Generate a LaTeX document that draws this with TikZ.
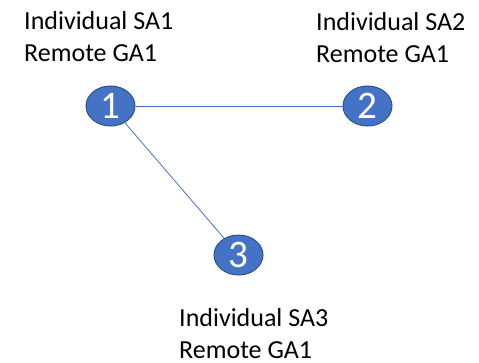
\documentclass[tikz,border=0pt]{standalone}
\usepackage{fontspec}
\setmainfont{Carlito}
\usetikzlibrary{shapes.geometric}
\definecolor{nodefill}{HTML}{4472C4}
\definecolor{nodeedge}{HTML}{2F528F}
\tikzset{
  numnode/.style={ellipse, fill=nodefill, draw=nodeedge, line width=1pt,
    minimum width=49pt, minimum height=40pt, inner sep=0pt, text=white,
    font=\fontsize{39}{42}\selectfont},
  lbl/.style={anchor=base west, align=left, inner sep=0pt,
    font=\fontsize{26}{32}\selectfont},
  link/.style={draw=nodefill, line width=0.8pt}
}
\begin{document}
\begin{tikzpicture}[x=1pt,y=-1pt]
\useasboundingbox (0,0) rectangle (479,362);
\node[numnode] (n1) at (110.5,106) {1};
\node[numnode] (n2) at (367.5,106) {2};
\node[numnode] (n3) at (238.5,255) {3};
\draw[link] (n1) -- (n2);
\draw[link] (n1) -- (n3);
\node[lbl] (l1) at (24,61) {Individual SA1\\Remote GA1};
\node[lbl] (l2) at (316,62) {Individual SA2\\Remote GA1};
\node[lbl] (l3) at (179,358) {Individual SA3\\Remote GA1};
\end{tikzpicture}
\end{document}
